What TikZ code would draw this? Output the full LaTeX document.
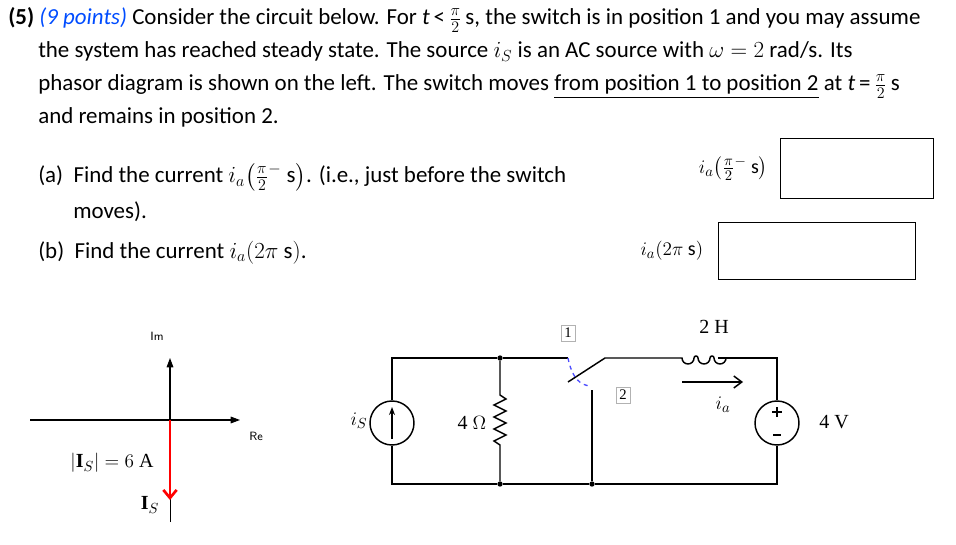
\documentclass[tikz,border=0pt]{standalone}
\usepackage{fontspec}
\usepackage{amsmath}
\setmainfont{Carlito}
\newfontfamily\cirfont{Liberation Serif}
\usetikzlibrary{arrows.meta,positioning}
\begin{document}
\begin{tikzpicture}[
    x=0.75pt, y=-0.75pt,
    txt/.style={anchor=base west, inner sep=0pt, font=\fontsize{17.2}{20}\selectfont},
    lbl/.style={inner sep=1pt, font=\fontsize{15}{17}\selectfont},
    clbl/.style={inner sep=1pt, font=\cirfont\fontsize{15}{17}\selectfont},
    wire/.style={line width=1.1pt},
    dot/.style={circle, fill, inner sep=0pt, minimum size=4pt},
    src/.style={circle, draw, line width=1.1pt, minimum size=33pt, inner sep=0pt},
    tag/.style={draw=gray!60, inner sep=2.5pt, font=\cirfont\fontsize{11}{12}\selectfont},
    ansbox/.style={draw, line width=0.8pt, anchor=north west},
    arrow/.style={-{Triangle[length=7pt,width=6pt]}, line width=1.1pt}
]
\useasboundingbox (0,0) rectangle (956,545);

% Question text
\node[txt] (l1) at (8,25) {\textbf{(5)} \textcolor{blue!70!cyan}{\textit{(9 points)}} Consider the circuit below. For \textit{t}\,<\,$\frac{\pi}{2}$\,s, the switch is in position 1 and you may assume};
\node[txt] (l2) at (38,58) {the system has reached steady state. The source $i_S$ is an AC source with $\omega = 2$ rad/s. Its};
\node[txt] (l3) at (38,91) {phasor diagram is shown on the left. The switch moves \underline{from position 1 to position 2} at \textit{t}\,=\,$\frac{\pi}{2}$\,s};
\node[txt] (l4) at (38,124) {and remains in position 2.};
\node[txt] (qa) at (38,183) {(a)\ \ Find the current $i_a\!\left(\frac{\pi}{2}^{-}\ \mathrm{s}\right)$. (i.e., just before the switch};
\node[txt] (qa2) at (73,219) {moves).};
\node[txt] (qb) at (38,258) {(b)\ \ Find the current $i_a(2\pi\ \mathrm{s})$.};

% Answer boxes
\node[ansbox, minimum width=115pt, minimum height=45pt] (boxa) at (780,138) {};
\node[ansbox, minimum width=148pt, minimum height=43pt] (boxb) at (718,222) {};
\node[lbl, anchor=east] (ansa) at ([xshift=-8pt]boxa.west) {$i_a\!\left(\frac{\pi}{2}^{-}\ \mathrm{s}\right)$};
\node[lbl, anchor=east] (ansb) at ([xshift=-10pt]boxb.west) {$i_a(2\pi\ \mathrm{s})$};

% Phasor diagram
\coordinate (o) at (170,420);
\coordinate (reend) at (240,420);
\coordinate (imend) at (170,358);
\coordinate (imlow) at (170,522);
\coordinate (ieend) at (170,500);
\coordinate (reL) at (30,420);
\draw[line width=0.6pt] (imlow) -- (o);
\draw[line width=0.8pt, -{Triangle[length=7pt,width=5pt]}] (reL) -- (reend);
\draw[line width=0.8pt, -{Triangle[length=7pt,width=5pt]}] (o) -- (imend);
\draw[red, line width=2pt, -{Straight Barb[length=6pt,width=10pt]}] (o) -- (ieend);
\node[font=\sffamily\small] (im) at (157,336) {Im};
\node[font=\sffamily\small] (re) at (256,436) {Re};
\node[clbl] (mag) at (112,463) {$|$\textbf{I}$_S| = 6$ A};
\node[clbl] (is) at (150,505) {\textbf{I}$_S$};

% Circuit nodes
\coordinate (tl) at (392,358);
\coordinate (bl) at (392,484);
\node[dot] (rt) at (500,358) {};
\node[dot] (rb) at (500,484) {};
\coordinate (sw1) at (568,358);
\coordinate (swa) at (568,382);
\coordinate (swb) at (605,358);
\node[dot] (s2b) at (592,484) {};
\coordinate (s2t) at (592,390);
\coordinate (lL) at (680,358);
\coordinate (lR) at (718,358);
\coordinate (tr) at (777,358);
\coordinate (br) at (777,484);
\node[src] (isrc) at (392,423) {};
\node[src] (vsrc) at (777,423) {};

% Wires
\draw[wire] (isrc) -- (tl) -- (rt) -- (sw1);
\draw[wire] (isrc) -- (bl) -- (rb) -- (s2b) -- (br) -- (vsrc);
\draw[wire] (swa) -- (swb) -- (lL);
\draw[wire] (lR) -- (tr) -- (vsrc);
\draw[wire] (s2t) -- (s2b);
\draw[blue!70, dashed, line width=1pt] (sw1) .. controls (572,378) and (580,385) .. (590,386);

% Resistor
\draw[wire] (rt) -- (500,395) -- (506,399) -- (494,405) -- (506,411) -- (494,417) -- (506,423) -- (494,429) -- (506,435) -- (494,441) -- (500,445) -- (rb);

% Inductor
\draw[wire] (lL) -- (682,358) arc[start angle=180, end angle=0, radius=6] arc[start angle=180, end angle=360, radius=2]
  arc[start angle=180, end angle=0, radius=6] arc[start angle=180, end angle=360, radius=2]
  arc[start angle=180, end angle=0, radius=6] -- (lR);

% Sources
\draw[arrow, -{Stealth[length=6pt]}] ([yshift=-12pt]isrc.center) -- ([yshift=12pt]isrc.center);
\draw[line width=1.1pt] (772,412) -- (782,412) (777,407) -- (777,417);
\draw[line width=1.1pt] (773,435) -- (781,435);

% Current arrow
\coordinate (iaL) at (682,382);
\coordinate (iaR) at (743,382);
\draw[arrow, -{Straight Barb[length=6pt,width=9pt]}] (iaL) -- (iaR);

% Labels
\node[tag] (t1) at (568,333) {1};
\node[tag] (t2) at (623,395) {2};
\node[clbl] (lbl2h) at (714,327) {2 H};
\node[lbl] (lblia) at (723,405) {$i_a$};
\node[clbl] (lbl4v) at (834,422) {4 V};
\node[clbl] (lbl4o) at (472,423) {4 $\Omega$};
\node[lbl] (lblis) at (359,421) {$i_S$};
\end{tikzpicture}
\end{document}
